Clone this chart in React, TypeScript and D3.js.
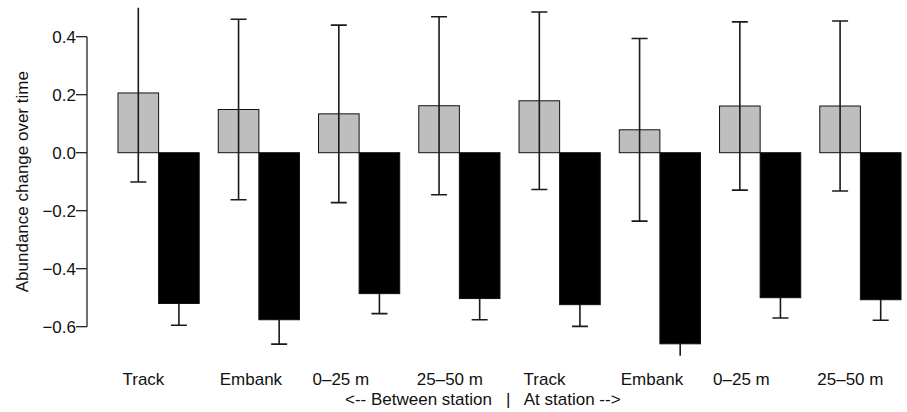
import React from "react";
import * as d3 from "d3";

// ---- data ----
const categories = ["Track", "Embank", "0–25 m", "25–50 m", "Track", "Embank", "0–25 m", "25–50 m"];
const seriesNames = ["gray", "black"];
const grayMean = [0.206, 0.149, 0.134, 0.162, 0.179, 0.079, 0.161, 0.161];
const graySE = [0.307, 0.311, 0.306, 0.307, 0.306, 0.315, 0.29, 0.293];
const blackMean = [-0.52, -0.576, -0.486, -0.503, -0.524, -0.659, -0.5, -0.507];
const blackSE = [0.075, 0.084, 0.069, 0.073, 0.075, 0.07, 0.07, 0.071];
const yTicks = [0.4, 0.2, 0.0, -0.2, -0.4, -0.6];
const yDomain = [-0.7, 0.5];
const yTitle = "Abundance change over time";
const subTitle = "<-- Between station   |   At station -->";

// ---- layout ----
const W = 907;
const H = 412;
const plotTop = 7.7;
const plotBottom = 355.7;
const plotLeft = 118;
const plotRight = 901;
const axisX = 87;
const labelNudge = [4.5, 1.5, -6, -2, 4.5, 1.5, -6.5, -2.5];
const font = "'Liberation Sans', Arial, Helvetica, sans-serif";

export default function App() {
  const y = d3.scaleLinear().domain(yDomain).range([plotBottom, plotTop]);
  const x = d3
    .scaleBand<number>()
    .domain(d3.range(categories.length))
    .range([plotLeft, plotRight])
    .paddingInner(0.19)
    .paddingOuter(0);
  const xs = d3.scaleBand<string>().domain(seriesNames).range([0, x.bandwidth()]).padding(0);
  const fills: Record<string, string> = { gray: "#bebebe", black: "#000000" };
  const series = [
    { name: "gray", mean: grayMean, se: graySE },
    { name: "black", mean: blackMean, se: blackSE },
  ];
  const capW = 16;

  const bars = (s: { name: string; mean: number[] }) =>
    s.mean.map((m, i) => {
      const bx = (x(i) as number) + (xs(s.name) as number);
      const y0 = y(0);
      const y1 = y(m);
      return (
        <rect
          key={s.name + i}
          x={bx}
          y={Math.min(y0, y1)}
          width={xs.bandwidth()}
          height={Math.abs(y1 - y0)}
          fill={fills[s.name]}
          stroke="#111"
          strokeWidth={1}
        />
      );
    });

  return (
    <svg
      width={W}
      height={H}
      style={{ position: "absolute", left: 0, top: 0, background: "#fff" }}
      fontFamily={font}
    >
      <defs>
        <clipPath id="plotclip">
          <rect x={0} y={y(yDomain[1])} width={W} height={y(yDomain[0]) - y(yDomain[1])} />
        </clipPath>
      </defs>

      <g clipPath="url(#plotclip)">
        {bars(series[0])}
        {/* error bars */}
        {series.map((s) =>
          s.mean.map((m, i) => {
            const cx = (x(i) as number) + (xs(s.name) as number) + xs.bandwidth() / 2;
            const yl = y(m - s.se[i]);
            const yu = y(m + s.se[i]);
            return (
              <g key={"e" + s.name + i} stroke="#1a1a1a" strokeWidth={1.6}>
                <line x1={cx} x2={cx} y1={yu} y2={yl} />
                <line x1={cx - capW / 2} x2={cx + capW / 2} y1={yu} y2={yu} />
                <line x1={cx - capW / 2} x2={cx + capW / 2} y1={yl} y2={yl} />
              </g>
            );
          })
        )}
        {bars(series[1])}
      </g>

      {/* y axis */}
      <g stroke="#111" strokeWidth={1.2}>
        <line x1={axisX} x2={axisX} y1={y(yTicks[0])} y2={y(yTicks[yTicks.length - 1])} />
        {yTicks.map((t) => (
          <line key={t} x1={axisX - 11} x2={axisX} y1={y(t)} y2={y(t)} />
        ))}
      </g>
      {yTicks.map((t) => (
        <text
          key={"l" + t}
          x={axisX - 11}
          y={y(t)}
          dy="0.36em"
          textAnchor="end"
          fontSize={17}
          fill="#111"
        >
          {d3.format(".1f")(t).replace("-", "−")}
        </text>
      ))}
      <text
        transform={`translate(28,${(plotTop + plotBottom) / 2}) rotate(-90)`}
        textAnchor="middle"
        fontSize={17}
        fill="#111"
      >
        {yTitle}
      </text>

      {/* category labels */}
      {categories.map((c, i) => (
        <text
          key={"c" + i}
          x={(x(i) as number) + labelNudge[i]}
          y={384.5}
          fontSize={17}
          fill="#111"
        >
          {c}
        </text>
      ))}
      <text x={345} y={405} fontSize={17} fill="#111" style={{ whiteSpace: "pre" }}>
        {subTitle}
      </text>
    </svg>
  );
}
